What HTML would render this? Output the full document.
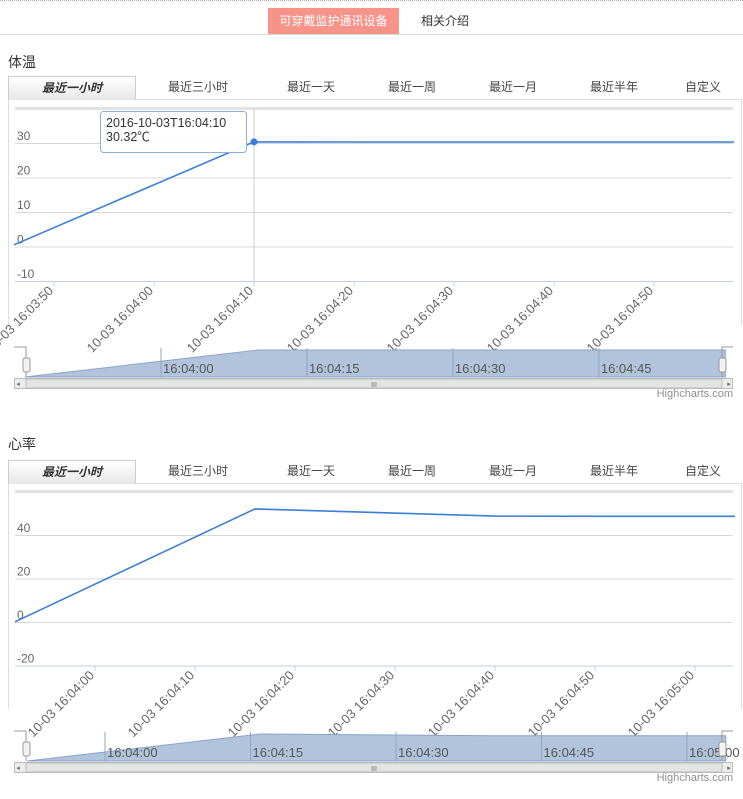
<!DOCTYPE html>
<html><head><meta charset="utf-8">
<style>
body{margin:0;width:743px;height:799px;overflow:hidden;background:#fff;font-family:"Liberation Sans","Noto Sans CJK SC",sans-serif;position:relative}
.topline{position:absolute;left:0;top:0;width:743px;border-top:1px dotted #aaa}
.nav{position:absolute;left:0;top:34px;width:743px;border-top:1px solid #d8d8d8}
.navbtn{position:absolute;top:8px;height:26px;line-height:26px;font-size:12px;text-align:center}
.title{position:absolute;left:8px;font-size:14px;color:#333}
.tabs{position:absolute;left:8px;width:734px;height:23px;border-bottom:1px solid #ddd}
.tab{position:absolute;top:0;height:23px;line-height:23px;font-size:12px;color:#444;text-align:center}
.tab.active{left:0;width:126px;border:1px solid #ccc;border-bottom:none;background:linear-gradient(#fff,#e8e8e8);font-style:italic;font-weight:bold;color:#333}
svg{position:absolute;left:0;top:0}
</style></head><body>
<div class="topline"></div>
<div class="navbtn" style="left:268px;width:131px;background:#f7948a;color:#fff">可穿戴监护通讯设备</div>
<div class="navbtn" style="left:410px;width:70px;color:#333">相关介绍</div>
<div class="nav"></div>

<div class="title" style="top:52px">体温</div>
<div class="tabs" style="top:76px">
<div class="tab active">最近一小时</div>
<div class="tab" style="left:155px;width:70px">最近三小时</div>
<div class="tab" style="left:273px;width:60px">最近一天</div>
<div class="tab" style="left:374px;width:60px">最近一周</div>
<div class="tab" style="left:475px;width:60px">最近一月</div>
<div class="tab" style="left:576px;width:60px">最近半年</div>
<div class="tab" style="left:670px;width:50px">自定义</div>
</div>

<div class="title" style="top:434px">心率</div>
<div class="tabs" style="top:460px">
<div class="tab active">最近一小时</div>
<div class="tab" style="left:155px;width:70px">最近三小时</div>
<div class="tab" style="left:273px;width:60px">最近一天</div>
<div class="tab" style="left:374px;width:60px">最近一周</div>
<div class="tab" style="left:475px;width:60px">最近一月</div>
<div class="tab" style="left:576px;width:60px">最近半年</div>
<div class="tab" style="left:670px;width:50px">自定义</div>
</div>

<svg id="s" width="743" height="799" xmlns="http://www.w3.org/2000/svg" font-family="Liberation Sans, sans-serif"></svg>
<script>
// temperature chart data (seconds relative to 16:04:00)
const tempTimes=[-14,10,20,30,40,50,58];
const tempValues=[0.5,30.32,30.3,30.3,30.3,30.3,30.3];
const tempYTicks=[-10,0,10,20,30];
const tempXTicks=[-10,0,10,20,30,40,50];
const tempXLabels=["10-03 16:03:50","10-03 16:04:00","10-03 16:04:10","10-03 16:04:20","10-03 16:04:30","10-03 16:04:40","10-03 16:04:50"];
const tempNavTicks=[0,15,30,45];
const tempNavLabels=["16:04:00","16:04:15","16:04:30","16:04:45"];
// heart rate chart data
const hrTimes=[-8,16,40,52,64];
const hrValues=[0.1,52,48.7,48.6,48.6];
const hrYTicks=[-20,0,20,40];
const hrXTicks=[0,10,20,30,40,50,60];
const hrXLabels=["10-03 16:04:00","10-03 16:04:10","10-03 16:04:20","10-03 16:04:30","10-03 16:04:40","10-03 16:04:50","10-03 16:05:00"];
const hrNavTicks=[0,15,30,45,60];
const hrNavLabels=["16:04:00","16:04:15","16:04:30","16:04:45","16:05:00"];

const NS="http://www.w3.org/2000/svg";
const svg=document.getElementById('s');
function mk(tag,attrs,parent,txt){const e=document.createElementNS(NS,tag);for(const k in attrs)e.setAttribute(k,attrs[k]);if(txt!==undefined)e.textContent=txt;(parent||svg).appendChild(e);return e;}

function chart(o,times,values,yTicks,xTicks,xLabels,navTicks,navLabels,prefix){
  const g=mk('g',{});
  
  
  const X=t=>o.x0+o.xs*(t-o.t0);
  const Y=v=>o.zero-o.ys*v;
  mk('path',{d:`M8.5 ${o.top} V${o.top+226} M741.5 ${o.top} V${o.top+226}`,stroke:'#ddd',fill:'none'},g);
  mk('line',{x1:15,x2:733,y1:Y(o.ymax),y2:Y(o.ymax),stroke:'#e3e3e3','stroke-width':3},g);
  yTicks.forEach(v=>{
    const l=mk('line',{x1:15,x2:733,y1:Y(v)+.5,y2:Y(v)+.5,stroke:'#d8d8d8'},g);
    
    
    const t=mk('text',{x:17,y:Y(v)-3,'font-size':12,fill:'#666'},g,String(v));
    
    
  });
  const axY=Y(yTicks[0])+0.5;
  mk('line',{x1:15,x2:733,y1:axY,y2:axY,stroke:'#c0d0e0'},g);
  xTicks.forEach((t,i)=>{
    const x=X(t);
    mk('line',{x1:x,x2:x,y1:axY,y2:axY+5,stroke:'#c0d0e0'},g);
    const lb=mk('text',{x:x,y:axY+10,'font-size':13,fill:'#666','text-anchor':'end',transform:`rotate(-45 ${x} ${axY+10})`},g,xLabels[i]);
    
    
  });
  if(o.cross!==undefined){
    mk('line',{x1:X(o.cross),x2:X(o.cross),y1:Y(o.ymax),y2:axY,stroke:'#ccc'},g);
  }
  const pts=times.map((t,i)=>X(t).toFixed(1)+','+Y(values[i]).toFixed(1)).join(' ');
  const ln=mk('polyline',{points:pts,fill:'none',stroke:'#3a7fd5','stroke-width':1.6},g);
  
  
  const nx=t=>o.nx0+o.nxs*t;
  const vmin=Math.min(...values),vmax=Math.max(...values);
  const ny=v=>o.navBot-(v-vmin)/(vmax-vmin)*(o.navBot-o.navTop);
  const nav=mk('g',{},g);
  
  
  let d='M'+nx(times[0])+' '+o.navBot;
  times.forEach((t,i)=>d+=' L'+nx(t).toFixed(1)+' '+ny(values[i]).toFixed(1));
  d+=' L'+nx(times[times.length-1])+' '+o.navBot+' Z';
  mk('path',{d:d,fill:'#b2c4dc',stroke:'#8aa3c8'},nav);
  navTicks.forEach((t,i)=>{
    const x=nx(t);
    mk('line',{x1:x,x2:x,y1:o.navTop-2,y2:o.navBot,stroke:'#8ea5c5'},nav);
    mk('text',{x:x+2,y:o.navBot-4,'font-size':13,fill:'#555'},nav,navLabels[i]);
  });
  mk('path',{d:`M14 ${o.navTop-3} H26 V${o.navBot} M722 ${o.navBot} V${o.navTop-3} H733`,stroke:'#999',fill:'none'},nav);
  [26,722].forEach(x=>{
    const h=mk('rect',{x:x-3,y:o.navTop+8,width:7,height:14,rx:2,fill:'#f2f2f2',stroke:'#999'},nav);
    
    
  });
  const sb=mk('rect',{x:14.5,y:o.navBot+1.5,width:718,height:10,fill:'#ececec',stroke:'#bbb'},g);
  
  
  mk('rect',{x:26,y:o.navBot+2,width:696,height:9,fill:'#e4e4e4',stroke:'#bbb'},g);
  mk('text',{x:374,y:o.navBot+10,'font-size':7,fill:'#666','text-anchor':'middle'},g,'III');
  mk('text',{x:18,y:o.navBot+9,'font-size':7,fill:'#666','text-anchor':'middle'},g,'◂');
  mk('text',{x:729,y:o.navBot+9,'font-size':7,fill:'#666','text-anchor':'middle'},g,'▸');
  const cr=mk('text',{x:733,y:o.navBot+20,'font-size':11,fill:'#909090','text-anchor':'end'},g,'Highcharts.com');
  
  
  return {X,Y};
}
const c1=chart({top:99,x0:154,xs:10,t0:0,zero:246.5,ys:3.45,ymax:40,cross:10,nx0:161,nxs:9.73,navTop:350,navBot:377},tempTimes,tempValues,tempYTicks,tempXTicks,tempXLabels,tempNavTicks,tempNavLabels,'temperature');
const c2=chart({top:483,x0:95,xs:10,t0:0,zero:622,ys:2.175,ymax:60,nx0:105,nxs:9.7,navTop:734,navBot:761},hrTimes,hrValues,hrYTicks,hrXTicks,hrXLabels,hrNavTicks,hrNavLabels,'heartrate');
const hx=c1.X(tempTimes[1]),hy=c1.Y(tempValues[1]);
const pt=mk('circle',{cx:hx,cy:hy,r:3.5,fill:'#3a7fd5'});


const tip=mk('g',{});


mk('rect',{x:100.5,y:111.5,width:146,height:41,rx:3,fill:'rgba(255,255,255,0.92)',stroke:'#8ab0dd'},tip);
mk('text',{x:106,y:127,'font-size':12.5,fill:'#333'},tip,'2016-10-03T16:04:10');
mk('text',{x:106,y:141,'font-size':12.5,fill:'#333','font-family':'Liberation Sans, Noto Sans CJK SC, sans-serif'},tip,' '+tempValues[1]+'℃');
</script>
</body></html>
